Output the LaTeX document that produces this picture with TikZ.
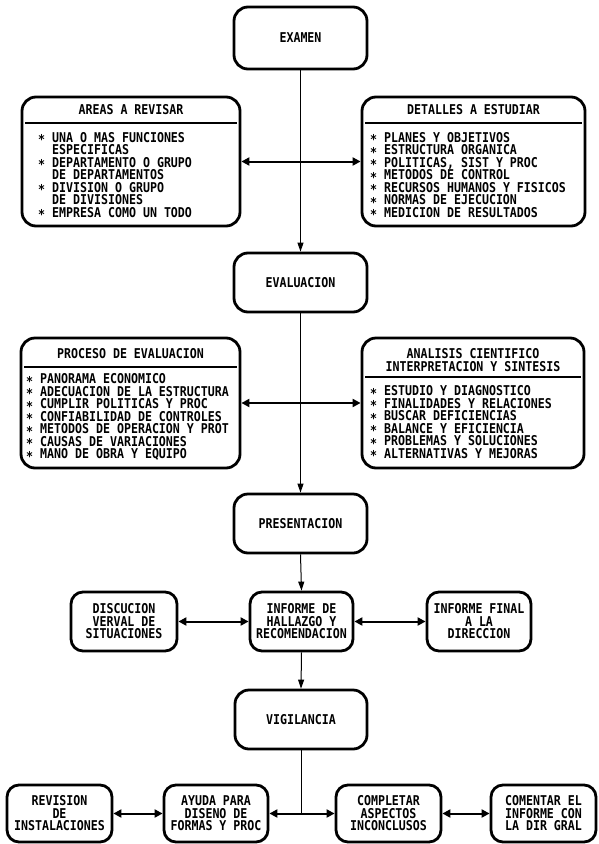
\documentclass[tikz,border=0pt]{standalone}
\usepackage{fontspec}
\usetikzlibrary{arrows.meta}
\newfontfamily\dotfont[FakeStretch=0.86]{DejaVu Sans Mono}
\newcommand\bul{\raisebox{-0.35ex}{*}}
\newcommand\ind{\hphantom{*\ }}

\tikzset{
  lbl/.style={font=\dotfont\bfseries\fontsize{13.5}{12.5}\selectfont, inner sep=0pt,
    execute at begin node={\setlength{\baselineskip}{12.5pt}\setlength{\lineskiplimit}{-20pt}}},
  box/.style={draw, line width=2.8pt, rounded corners=14pt, inner sep=0pt, lbl, align=center},
  smallbox/.style={box, rounded corners=12pt},
  rule/.style={line width=1.4pt},
  flow/.style={line width=1pt, -{Triangle[length=9pt,width=6pt]}},
  plainline/.style={line width=1pt},
  link/.style={line width=2pt, {Triangle[length=8pt,width=8pt]}-{Triangle[length=8pt,width=8pt]}}
}

\begin{document}
\begin{tikzpicture}[x=1pt,y=-1pt]
\useasboundingbox (0,0) rectangle (598,844);

% ---- stage boxes on the centre line
\node[box, minimum width=133pt, minimum height=62pt] (examen) at (300.5,38) {EXAMEN};
\node[box, minimum width=133pt, minimum height=59pt] (evaluacion) at (300.5,282.5) {EVALUACION};
\node[box, minimum width=133pt, minimum height=59pt] (presentacion) at (300.5,523.5) {PRESENTACION};
\node[box, minimum width=132pt, minimum height=59pt] (vigilancia) at (301,719.5) {VIGILANCIA};

% ---- examen: areas and details (list anchors sit on the last baseline)
\node[box, minimum width=218pt, minimum height=129pt] (areas) at (131,161.5) {};
\node[lbl] (areasT) at (131,110) {AREAS A REVISAR};
\draw[rule] (25,123) -- (237,123);
\node[lbl, align=left, anchor=base west] (areasL) at (38,217) {%
\bul\ UNA O MAS FUNCIONES\\
\ind ESPECIFICAS\\
\bul\ DEPARTAMENTO O GRUPO\\
\ind DE DEPARTAMENTOS\\
\bul\ DIVISION O GRUPO\\
\ind DE DIVISIONES\\
\bul\ EMPRESA COMO UN TODO};

\node[box, minimum width=223pt, minimum height=129pt] (detalles) at (473.5,161.5) {};
\node[lbl] (detallesT) at (473.5,110) {DETALLES A ESTUDIAR};
\draw[rule] (365,123) -- (582,123);
\node[lbl, align=left, anchor=base west] (detallesL) at (370,217) {%
\bul\ PLANES Y OBJETIVOS\\
\bul\ ESTRUCTURA ORGANICA\\
\bul\ POLITICAS, SIST Y PROC\\
\bul\ METODOS DE CONTROL\\
\bul\ RECURSOS HUMANOS Y FISICOS\\
\bul\ NORMAS DE EJECUCION\\
\bul\ MEDICION DE RESULTADOS};

% ---- evaluacion: process and analysis
\node[box, minimum width=219pt, minimum height=130pt] (proceso) at (130.5,403) {};
\node[lbl] (procesoT) at (130.5,354) {PROCESO DE EVALUACION};
\draw[rule] (24,367) -- (237,367);
\node[lbl, align=left, anchor=base west] (procesoL) at (26,458.5) {%
\bul\ PANORAMA ECONOMICO\\
\bul\ ADECUACION DE LA ESTRUCTURA\\
\bul\ CUMPLIR POLITICAS Y PROC\\
\bul\ CONFIABILIDAD DE CONTROLES\\
\bul\ METODOS DE OPERACION Y PROT\\
\bul\ CAUSAS DE VARIACIONES\\
\bul\ MANO DE OBRA Y EQUIPO};

\node[box, minimum width=222pt, minimum height=130pt] (analisis) at (473,403) {};
\node[lbl, align=center] (analisisT) at (473,360) {ANALISIS CIENTIFICO\\INTERPRETACION Y SINTESIS};
\draw[rule] (365,377) -- (581,377);
\node[lbl, align=left, anchor=base west] (analisisL) at (370,458) {%
\bul\ ESTUDIO Y DIAGNOSTICO\\
\bul\ FINALIDADES Y RELACIONES\\
\bul\ BUSCAR DEFICIENCIAS\\
\bul\ BALANCE Y EFICIENCIA\\
\bul\ PROBLEMAS Y SOLUCIONES\\
\bul\ ALTERNATIVAS Y MEJORAS};

% ---- presentacion row
\node[smallbox, minimum width=103pt, minimum height=59pt] (informe) at (301.5,621.5) {INFORME DE\\HALLAZGO Y\\RECOMENDACION};
\node[smallbox, minimum width=106pt, minimum height=59pt] (discucion) at (124,621.5) {DISCUCION\\VERVAL DE\\SITUACIONES};
\node[smallbox, minimum width=104pt, minimum height=59pt] (final) at (479,621.5) {INFORME FINAL\\A LA\\DIRECCION};

% ---- vigilancia row
\node[smallbox, minimum width=105pt, minimum height=57pt] (revision) at (59.5,813.5) {REVISION\\DE\\INSTALACIONES};
\node[smallbox, minimum width=104pt, minimum height=57pt] (ayuda) at (216,813.5) {AYUDA PARA\\DISENO DE\\FORMAS Y PROC};
\node[smallbox, minimum width=105pt, minimum height=57pt] (completar) at (388.5,813.5) {COMPLETAR\\ASPECTOS\\INCONCLUSOS};
\node[smallbox, minimum width=105pt, minimum height=57pt] (comentar) at (543.5,813.5) {COMENTAR EL\\INFORME CON\\LA DIR GRAL};

% ---- connectors
\draw[flow] (examen.south) -- (evaluacion.north);
\draw[link] (areas.east) -- (detalles.west);
\draw[flow] (evaluacion.south) -- (presentacion.north);
\draw[link] (proceso.east) -- (analisis.west);
\draw[flow] (presentacion.south) -- (informe.north);
\draw[link] (discucion.east) -- (informe.west);
\draw[link] (informe.east) -- (final.west);
\draw[flow] (informe.south) -- (vigilancia.north);
\coordinate (junction) at (vigilancia.south |- ayuda.east);
\draw[plainline] (vigilancia.south) -- (junction);
\draw[link] (ayuda.east) -- (completar.west);
\draw[link] (revision.east) -- (ayuda.west);
\draw[link] (completar.east) -- (comentar.west);
\end{tikzpicture}
\end{document}
